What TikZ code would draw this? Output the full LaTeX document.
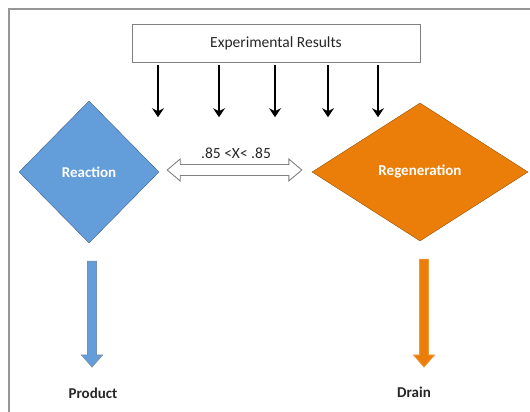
\documentclass[tikz,border=0pt]{standalone}
\usepackage{fontspec}
\setmainfont{Carlito}
\usetikzlibrary{shapes.geometric, arrows.meta, positioning, calc}

\definecolor{reactblue}{RGB}{99,157,218}
\definecolor{reactedge}{RGB}{62,96,140}
\definecolor{regenorange}{RGB}{235,126,8}
\definecolor{regenedge}{RGB}{150,82,12}
\definecolor{framegray}{RGB}{150,150,150}

\tikzset{
  decision/.style={diamond, inner sep=0pt, text=white, font=\fontsize{15}{18}\selectfont\bfseries},
  resarrow/.style={line width=2.4pt, -{Stealth[length=9pt,width=12pt,inset=3pt]}},
  fatarrow/.style={line width=0.8pt, to path={let \p1=(\tikztostart), \p2=(\tikztotarget) in
    (\x1-4.5pt,\y1) -- (\x1-4.5pt,\y2+12pt) -- (\x1-10.5pt,\y2+12pt) -- (\x1,\y2)
    -- (\x1+10.5pt,\y2+12pt) -- (\x1+4.5pt,\y2+12pt) -- (\x1+4.5pt,\y1) -- cycle}},
  hollow/.style={draw=gray, fill=white, line width=0.9pt, to path={let \p1=(\tikztostart), \p2=(\tikztotarget) in
    (\x1,\y1) -- (\x1+13pt,\y1+11pt) -- (\x1+13pt,\y1+5.5pt) -- (\x2-13pt,\y1+5.5pt)
    -- (\x2-13pt,\y1+11pt) -- (\x2,\y1) -- (\x2-13pt,\y1-11pt) -- (\x2-13pt,\y1-5.5pt)
    -- (\x1+13pt,\y1-5.5pt) -- (\x1+13pt,\y1-11pt) -- cycle}},
  outlet/.style={text=black!85, font=\fontsize{15}{18}\selectfont\bfseries}
}

\begin{document}
\begin{tikzpicture}[x=1pt, y=1pt, font=\fontsize{15.5}{18}\selectfont, text=black!85]
    \clip (0,0) rectangle (530,412);
    \draw[framegray, line width=1.5pt] (9,-20) rectangle (560,403);

    \node[draw=gray, minimum width=288pt, minimum height=38pt] (res) at (276,369) {Experimental Results};
    \foreach \x in {158,219,275,328,378}
        \draw[resarrow, shorten <=3pt] (res.south -| \x,0) -- ++(0,-55);

    \node[decision, draw=reactedge, fill=reactblue, minimum width=140pt, minimum height=142pt] (react) at (89,240) {Reaction};
    \node[decision, draw=regenedge, fill=regenorange, minimum width=216pt, minimum height=138pt] (regen) at (420,240) {Regeneration};

    \draw[hollow] ([xshift=8pt,yshift=2pt]react.east) to ([xshift=-10pt,yshift=2pt]regen.west);
    \node (lim) at (236,259) {.85 <X< .85};

    \node[outlet] (prod) at (93,19) {Product};
    \node[outlet] (drain) at (414,20) {Drain};

    \draw[fatarrow, draw=reactedge!70, fill=reactblue] ([xshift=3pt,yshift=-18pt]react.south) to ([yshift=26pt]prod.center);
    \draw[fatarrow, draw=regenorange!80!white, fill=regenorange] ([xshift=4pt,yshift=-18pt]regen.south) to ([yshift=25pt]drain.center);
\end{tikzpicture}
\end{document}
